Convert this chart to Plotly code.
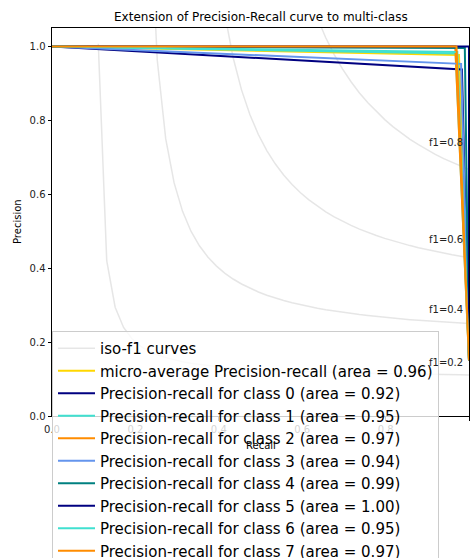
import numpy as np
import plotly.graph_objects as go

# ---- data ----
f_scores = [0.2, 0.4, 0.6, 0.8]

micro_recall = [0.0, 0.976, 1.0]
micro_precision = [1.0, 0.977, 0.15]
micro_area = 0.96

class_ids = [0, 1, 2, 3, 4, 5, 6, 7]
class_areas = [0.92, 0.95, 0.97, 0.94, 0.99, 1.00, 0.95, 0.97]
class_recall = [
    [0.0, 0.983, 1.0],
    [0.0, 0.968, 1.0],
    [0.0, 0.967, 1.0],
    [0.0, 0.981, 1.0],
    [0.0, 0.990, 1.0],
    [0.0, 1.000, 1.0],
    [0.0, 0.972, 1.0],
    [0.0, 0.970, 1.0],
]
class_precision = [
    [1.0, 0.938, 0.15],
    [1.0, 0.981, 0.15],
    [1.0, 1.000, 0.15],
    [1.0, 0.953, 0.15],
    [1.0, 0.996, 0.15],
    [1.0, 1.000, 0.15],
    [1.0, 0.985, 0.15],
    [1.0, 1.000, 0.15],
]
colors = ["navy", "turquoise", "darkorange", "cornflowerblue", "teal"]

FONT = "DejaVu Sans"
fig = go.Figure()

# iso-f1 reference curves
xs = np.linspace(0.01, 1, 50)
for k, f in enumerate(f_scores):
    ys = f * xs / (2 * xs - f)
    m = ys >= 0
    fig.add_trace(go.Scatter(
        x=xs[m], y=ys[m], mode="lines",
        line=dict(color="rgba(128,128,128,0.2)", width=1.5),
        name="iso-f1 curves", legendgroup="iso", showlegend=(k == 0),
    ))
    fig.add_annotation(
        x=0.9, y=ys[45] + 0.02, xref="x", yref="y", text="f1={:0.1f}".format(f),
        showarrow=False, xanchor="left", yanchor="bottom", yshift=-3,
        font=dict(family=FONT, size=10, color="#222"),
    )

fig.add_trace(go.Scatter(
    x=micro_recall, y=micro_precision, mode="lines",
    line=dict(color="gold", width=2),
    name="micro-average Precision-recall (area = {:0.2f})".format(micro_area),
))

for i, cid in enumerate(class_ids):
    fig.add_trace(go.Scatter(
        x=class_recall[i], y=class_precision[i], mode="lines",
        line=dict(color=colors[i % len(colors)], width=2),
        name="Precision-recall for class {} (area = {:0.2f})".format(cid, class_areas[i]),
    ))

axis_common = dict(
    showgrid=False, zeroline=False, showline=True, mirror=True,
    linecolor="black", linewidth=1, ticks="outside", ticklen=3.5,
    tickcolor="black", tickwidth=1, tickformat=".1f",
    tickfont=dict(family=FONT, size=10, color="#222"),
)

fig.update_layout(
    width=471, height=558,
    margin=dict(l=52, r=2, t=28, b=142, autoexpand=False),
    plot_bgcolor="white", paper_bgcolor="white",
    font=dict(family=FONT, color="black"),
    xaxis=dict(range=[0, 1], tickvals=[0, 0.2, 0.4, 0.6, 0.8, 1.0], **axis_common),
    yaxis=dict(range=[0, 1.05], tickvals=[0, 0.2, 0.4, 0.6, 0.8, 1.0], **axis_common),
    showlegend=True,
    legend=dict(
        x=0, y=0.219, xanchor="left", yanchor="top",
        bgcolor="rgba(255,255,255,0.8)", bordercolor="#cccccc", borderwidth=1,
        font=dict(family=FONT, size=15, color="black"),
        tracegroupgap=0, itemwidth=37,
    ),
)

fig.add_annotation(
    text="Extension of Precision-Recall curve to multi-class",
    xref="paper", yref="paper", x=0.5, y=1, yshift=11, xanchor="center", yanchor="middle",
    showarrow=False, font=dict(family=FONT, size=12, color="black"),
)
fig.add_annotation(
    text="Precision", xref="paper", yref="paper", x=0, y=0.5, xshift=-35,
    xanchor="center", yanchor="middle", textangle=-90, showarrow=False,
    font=dict(family=FONT, size=10, color="black"),
)
fig.add_annotation(
    text="Recall", xref="paper", yref="paper", x=0.5, y=0, yshift=-29,
    xanchor="center", yanchor="middle", showarrow=False,
    font=dict(family=FONT, size=10, color="black"),
)

fig.write_html(
    "out.html",
    config={"displayModeBar": False},
    post_script="document.body.style.margin='0';document.body.style.overflow='hidden';",
)
